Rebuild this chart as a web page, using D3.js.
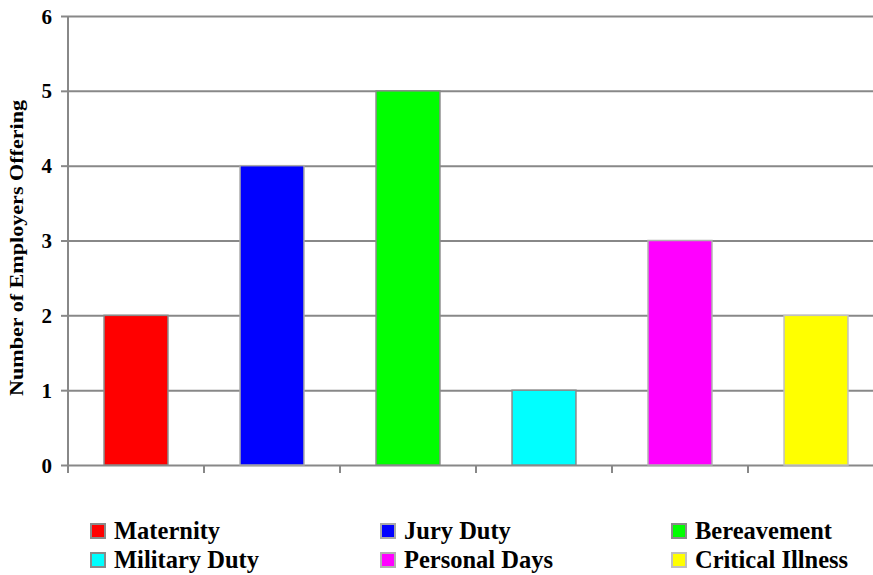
<!DOCTYPE html>
<html>
<head>
<meta charset="utf-8">
<script src="https://cdn.jsdelivr.net/npm/d3@7"></script>
<style>
  html, body { margin: 0; padding: 0; background: #fff; }
  svg { display: block; }
  text { font-family: "Liberation Serif", "Times New Roman", serif; font-weight: bold; fill: #000; }
</style>
</head>
<body>
<svg id="chart" width="873" height="575"></svg>
<script>
// Leave types and how many employers offer each
const categories = ["Maternity", "Jury Duty", "Bereavement", "Military Duty", "Personal Days", "Critical Illness"];
const values = [2, 4, 5, 1, 3, 2];
const colors = ["#ff0000", "#0000ff", "#00ff00", "#00ffff", "#ff00ff", "#ffff00"];
const edgeColors = ["#8a8a8a", "#a8a8a8", "#8a8a8a", "#8a8a8a", "#b0b0b0", "#c0c0c0"];
const yTicks = [0, 1, 2, 3, 4, 5, 6];
const yTitle = "Number of Employers Offering";

const svg = d3.select("#chart");
const W = 873;
const plot = { left: 68, right: 884, top: 16, bottom: 465 };

const x = d3.scaleBand()
  .domain(categories)
  .range([plot.left, plot.right])
  .paddingInner(0.53)
  .paddingOuter(0.265);

const y = d3.scaleLinear().domain([0, 6]).range([plot.bottom, plot.top]);

const grid = "#888888";

// Y axis with horizontal gridlines
const yAxis = svg.append("g")
  .attr("transform", `translate(${plot.left},0)`)
  .call(d3.axisLeft(y).tickValues(yTicks).tickFormat(d3.format("d"))
    .tickSize(7).tickSizeOuter(0).tickPadding(9));
yAxis.select(".domain").remove();
yAxis.selectAll(".tick line").attr("stroke", grid).attr("stroke-width", 2);
yAxis.selectAll(".tick").append("line")
  .attr("x1", 0).attr("x2", W - plot.left)
  .attr("stroke", grid).attr("stroke-width", 2);
yAxis.selectAll(".tick text")
  .style("font-size", "21px")
  .attr("dy", "0.34em");

// Vertical axis line
svg.append("line")
  .attr("x1", plot.left).attr("x2", plot.left)
  .attr("y1", plot.top).attr("y2", plot.bottom + 8)
  .attr("stroke", grid).attr("stroke-width", 2);

// Category boundary ticks below the baseline
const step = x.step();
const bounds = d3.range(categories.length + 1).map(i => plot.left + i * step);
svg.append("g").selectAll("line")
  .data(bounds)
  .join("line")
  .attr("x1", d => d).attr("x2", d => d)
  .attr("y1", plot.bottom).attr("y2", plot.bottom + 8)
  .attr("stroke", grid).attr("stroke-width", 2);

// Bars
svg.append("g").selectAll("rect")
  .data(categories)
  .join("rect")
  .attr("x", d => x(d))
  .attr("y", (d, i) => y(values[i]))
  .attr("width", x.bandwidth())
  .attr("height", (d, i) => y(0) - y(values[i]))
  .attr("fill", (d, i) => colors[i])
  .attr("stroke", (d, i) => edgeColors[i])
  .attr("stroke-width", 1.5);

// Y axis title
svg.append("text")
  .attr("transform", `translate(23,248) rotate(-90)`)
  .attr("text-anchor", "middle")
  .attr("textLength", 296)
  .attr("lengthAdjust", "spacingAndGlyphs")
  .style("font-size", "19px")
  .text(yTitle);

// Legend: three columns, two rows
const legendCols = [91, 381, 672];
const legendRows = [524, 553];
const legend = svg.append("g").selectAll("g")
  .data(categories)
  .join("g")
  .attr("transform", (d, i) => `translate(${legendCols[i % 3]},${legendRows[Math.floor(i / 3)]})`);
legend.append("rect")
  .attr("width", 14).attr("height", 14)
  .attr("fill", (d, i) => colors[i])
  .attr("stroke", (d, i) => edgeColors[i])
  .attr("stroke-width", 2);
legend.append("text")
  .attr("x", 23).attr("y", 15)
  .style("font-size", "24.5px")
  .text(d => d);
</script>
</body>
</html>
